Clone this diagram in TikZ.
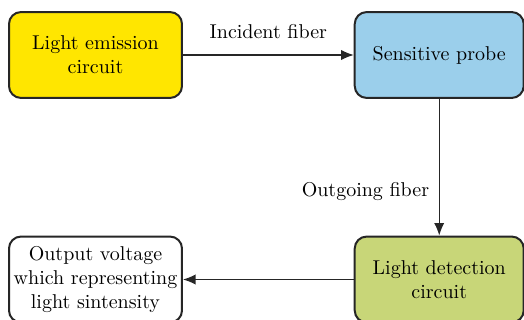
\documentclass[tikz,border=0pt]{standalone}
\usepackage{tikz}
\usetikzlibrary{arrows.meta,positioning}
\definecolor{emityellow}{RGB}{255,230,0}
\definecolor{probeblue}{RGB}{155,207,235}
\definecolor{detectgreen}{RGB}{200,214,120}

\begin{document}
\begin{tikzpicture}[
    font=\normalsize,
    block/.style={draw=black!85, line width=1pt, rounded corners=6pt, align=center,
                  minimum width=30.4mm, minimum height=15.1mm, inner sep=2pt},
    link/.style={-{Latex[length=2.2mm, width=1.8mm]}, semithick, draw=black!85}
]
\useasboundingbox (0,0) rectangle (262pt,-160pt);
\node[block, fill=emityellow] (emit) at (47.75pt,-27.5pt) {Light emission\\circuit};
\node[block, fill=probeblue, minimum width=29.7mm, right=30mm of emit] (probe) {Sensitive probe};
\node[block, fill=detectgreen, minimum width=29.7mm, below=24mm of probe] (detect) {Light detection\\circuit};
\node[block, fill=white, below=24mm of emit] (output)
    {Output voltage\\which representing\\light sintensity};
\draw[link] (emit) -- node[above=1.5mm] (incident) {Incident fiber} (probe);
\draw[link] (probe) -- node[pos=0.68, left=0.5mm] (outgoing) {Outgoing fiber} (detect);
\draw[link] (detect) -- (output);
\end{tikzpicture}
\end{document}
